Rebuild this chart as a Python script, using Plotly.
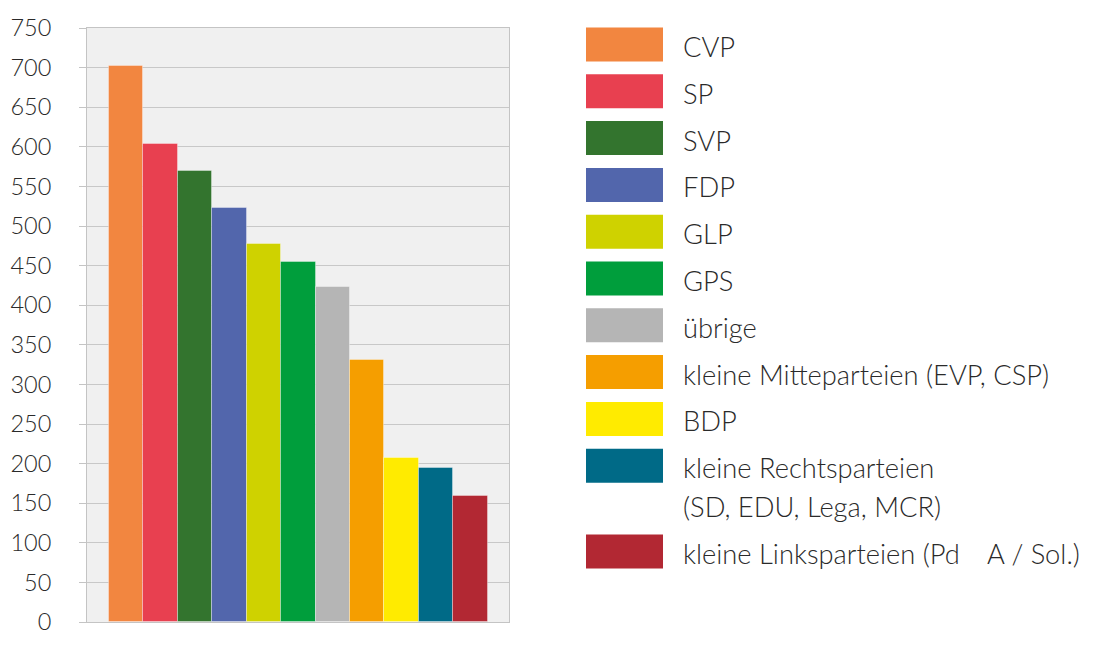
import plotly.graph_objects as go

# ---- data ----
parties = ["CVP", "SP", "SVP", "FDP", "GLP", "GPS", "übrige",
           "kleine Mitteparteien (EVP, CSP)", "BDP",
           "kleine Rechtsparteien<br>(SD, EDU, Lega, MCR)",
           "kleine Linksparteien (Pd\u2002\u2002A / Sol.)"]
values = [702, 604, 569, 523, 477, 455, 423, 331, 207, 195, 159]
colors = ["#F28640", "#E84050", "#33742E", "#5266AC", "#CFD200", "#009E3C",
          "#B5B5B5", "#F59E00", "#FFEB00", "#006A87", "#B22833"]
y_ticks = list(range(0, 751, 50))

FONT = "Lato"
OFF = 8  # page body margin
W, H = 1100 - OFF, 653 - OFF
# plot area in page pixels: x 87..509, y 28..622
L, T = 87 - OFF, 28 - OFF
R = W - (509 - OFF)
B = H - (622 - OFF)
pw, ph = W - L - R, H - T - B


def px2x(px):
    return (px - OFF - L) / pw


def py2y(py):
    return (H - B - (py - OFF)) / ph


fig = go.Figure()
fig.add_trace(go.Bar(
    x=list(range(len(values))), y=values,
    marker=dict(color=colors, line=dict(color="rgba(255,255,255,0.35)", width=1)),
    width=1, showlegend=False, hoverinfo="y",
))

# ---- custom legend ----
shapes = []
annotations = []
row_y = 44.5
step = 46.8
line_h = 39
for name, col in zip(parties, colors):
    lines = name.split("<br>")
    shapes.append(dict(type="rect", xref="paper", yref="paper",
                       x0=px2x(586), x1=px2x(663),
                       y0=py2y(row_y + 17), y1=py2y(row_y - 17),
                       fillcolor=col, line=dict(width=0)))
    for k, ln in enumerate(lines):
        annotations.append(dict(text=ln, xref="paper", yref="paper",
                                x=px2x(681), y=py2y(row_y + 2 + k * line_h),
                                xanchor="left", yanchor="middle", showarrow=False,
                                font=dict(family=FONT, size=27.3, color="#2A2A2A", weight=300)))
    row_y += step + (len(lines) - 1) * line_h

fig.update_layout(
    template="none",
    width=W, height=H,
    margin=dict(l=L, r=R, t=T, b=B, pad=0, autoexpand=False),
    paper_bgcolor="white", plot_bgcolor="#F0F0F0",
    bargap=0,
    shapes=shapes, annotations=annotations,
    font=dict(family=FONT, size=23, color="#2A2A2A", weight=300),
    xaxis=dict(range=[-1.14, 10.5 + 0.62], showticklabels=False, showgrid=False,
               zeroline=False, showline=True, mirror=True, linecolor="#C4C4C4",
               linewidth=1, fixedrange=True, automargin=False, ticks=""),
    yaxis=dict(range=[0, 750], tickvals=y_ticks, ticks="outside", ticklen=7,
               tickcolor="#C4C4C4", showgrid=True, gridcolor="#C8C8C8", gridwidth=1,
               zeroline=False, showline=True, mirror=True, linecolor="#C4C4C4",
               linewidth=1, ticklabelstandoff=23, automargin=False,
               tickfont=dict(family=FONT, size=23.5, color="#2A2A2A", weight=300)),
)

fig.write_html("out.html")
